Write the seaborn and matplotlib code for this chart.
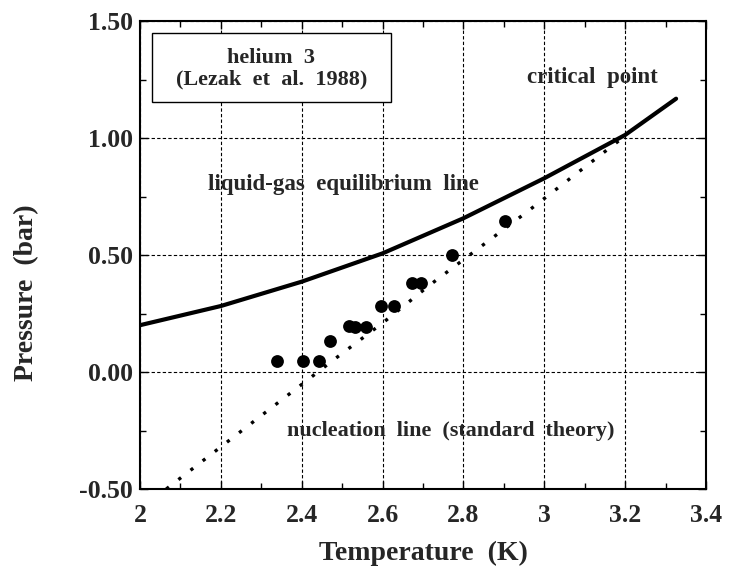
import numpy as np
import pandas as pd
import matplotlib
matplotlib.use("Agg")
import matplotlib.pyplot as plt
from matplotlib.patches import Rectangle
from matplotlib.ticker import MultipleLocator, FixedLocator
import seaborn as sns

# ---- data ----
eq_T = [2.0, 2.2, 2.4, 2.6, 2.8, 3.0, 3.2, 3.326]
eq_P = [0.200, 0.282, 0.386, 0.507, 0.657, 0.828, 1.013, 1.168]

nuc_T = [2.065, 2.334, 2.482, 2.602, 2.717, 2.957, 3.194]
nuc_P = [-0.50, -0.141, 0.056, 0.212, 0.372, 0.684, 1.001]

exp_T = [2.338, 2.404, 2.443, 2.470, 2.518, 2.532, 2.558, 2.595, 2.628,
         2.672, 2.694, 2.771, 2.903]
exp_P = [0.047, 0.047, 0.047, 0.132, 0.197, 0.194, 0.194, 0.282, 0.282,
         0.382, 0.382, 0.500, 0.647]

x_ticks = [2, 2.2, 2.4, 2.6, 2.8, 3, 3.2, 3.4]
x_tick_labels = ["2", "2.2", "2.4", "2.6", "2.8", "3", "3.2", "3.4"]
y_ticks = [-0.5, 0.0, 0.5, 1.0, 1.5]
y_tick_labels = ["-0.50", "0.00", "0.50", "1.00", "1.50"]

sns.set_style("ticks")
plt.rcParams["font.family"] = ["Liberation Serif", "DejaVu Serif"]
plt.rcParams["font.weight"] = "bold"

fig = plt.figure(figsize=(7.35, 5.75), dpi=100)
ax = fig.add_axes([140 / 735, 1 - 489 / 575, 566 / 735, 468 / 575])

eq_df = pd.DataFrame({"T": eq_T, "P": eq_P})
nuc_df = pd.DataFrame({"T": nuc_T, "P": nuc_P})
exp_df = pd.DataFrame({"T": exp_T, "P": exp_P})

sns.lineplot(data=eq_df, x="T", y="P", sort=False, estimator=None,
             color="black", linewidth=3.0, ax=ax, zorder=3,
             solid_joinstyle="round")
sns.lineplot(data=nuc_df, x="T", y="P", sort=False, estimator=None,
             color="black", linewidth=2.4, linestyle=(0, (1, 3.6)),
             dash_capstyle="butt", ax=ax, zorder=3)
sns.scatterplot(data=exp_df, x="T", y="P", color="black", s=85,
                edgecolor="black", linewidth=0, ax=ax, zorder=4)

ax.set_xlim(2, 3.4)
ax.set_ylim(-0.5, 1.5)
ax.xaxis.set_major_locator(FixedLocator(x_ticks))
ax.set_xticklabels(x_tick_labels)
ax.yaxis.set_major_locator(FixedLocator(y_ticks))
ax.set_yticklabels(y_tick_labels)
ax.xaxis.set_minor_locator(MultipleLocator(0.1))
ax.yaxis.set_minor_locator(MultipleLocator(0.25))

ax.tick_params(which="both", direction="in", top=True, right=True,
               color="black", width=1.0)
ax.tick_params(which="major", length=6)
ax.tick_params(which="minor", length=4)
ax.tick_params(axis="x", which="major", labelsize=18.5, pad=11)
ax.tick_params(axis="y", which="major", labelsize=18.5, pad=5)
for lab in ax.get_xticklabels() + ax.get_yticklabels():
    lab.set_fontweight("bold")

ax.grid(True, which="major", color="black", linestyle=(0, (3, 2)),
        linewidth=0.8)
for s in ax.spines.values():
    s.set_linewidth(1.5)
    s.set_color("black")

ax.set_xlabel("Temperature  (K)", fontsize=20, fontweight="bold", labelpad=10)
ax.set_ylabel("Pressure  (bar)", fontsize=20, fontweight="bold")
ax.yaxis.set_label_coords(-0.178, 0.42)

# legend-like box
ax.add_patch(Rectangle((0.0207, 0.826), 0.4223, 0.1477, transform=ax.transAxes,
                       facecolor="white", edgecolor="black", linewidth=1.0,
                       zorder=5))
ax.text(0.232, 0.898, "helium  3\n(Lezak  et  al.  1988)", transform=ax.transAxes,
        ha="center", va="center", fontsize=16, fontweight="bold",
        linespacing=1.05, zorder=6)

ax.text(3.12, 1.26, "critical  point", ha="center", va="center",
        fontsize=16.5, fontweight="bold", zorder=6)
ax.text(2.167, 0.80, "liquid-gas  equilibrium  line", ha="left", va="center",
        fontsize=16.5, fontweight="bold", zorder=6)
ax.text(2.364, -0.251, "nucleation  line  (standard  theory)", ha="left",
        va="center", fontsize=15.9, fontweight="bold", zorder=6)

fig.savefig("out.png", dpi=100)
